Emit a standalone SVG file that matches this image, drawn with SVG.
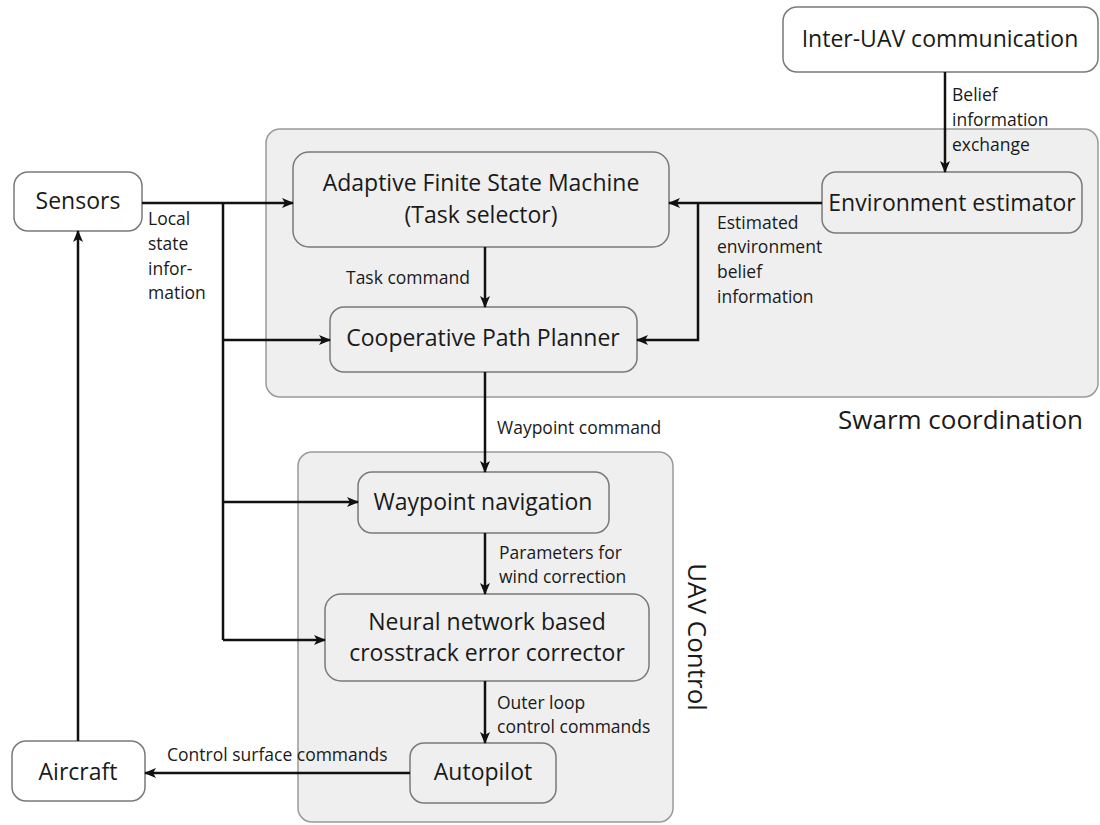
<svg xmlns="http://www.w3.org/2000/svg" width="1100" height="825" viewBox="0 0 1100 825">
  <defs>
    <marker id="arrow" markerUnits="userSpaceOnUse" markerWidth="12" markerHeight="12" viewBox="0 0 12 12" refX="11" refY="6" orient="auto">
      <path d="M0,1 L12,6 L0,11 L3,6 Z" fill="#111"/>
    </marker>
    <style>
      .group { fill: #efefef; stroke: #9a9a9a; stroke-width: 1.5; }
      .box { fill: #efefef; stroke: #7a7a7a; stroke-width: 1.5; }
      .outer { fill: #ffffff; stroke: #7a7a7a; stroke-width: 1.5; }
      .main { font-family: "Open Sans", "Liberation Sans", sans-serif; font-size: 23px; fill: #1a1a1a; text-anchor: middle; }
      .lbl { font-family: "Open Sans", "Liberation Sans", sans-serif; font-size: 17.5px; fill: #1a1a1a; }
      .title { font-family: "Open Sans", "Liberation Sans", sans-serif; font-size: 26px; fill: #1a1a1a; }
      .conn { fill: none; stroke: #111; stroke-width: 2.5; }
    </style>
  </defs>

  <!-- container groups -->
  <g id="swarm-coordination">
    <rect class="group" x="266" y="129" width="832" height="268" rx="14"/>
    <text class="title" x="1083" y="429" text-anchor="end">Swarm coordination</text>
  </g>
  <g id="uav-control">
    <rect class="group" x="298" y="452" width="375" height="370" rx="14"/>
    <text class="title" transform="translate(688,637) rotate(90)" text-anchor="middle">UAV Control</text>
  </g>

  <!-- nodes -->
  <g id="inter-uav">
    <rect class="outer" x="783" y="7" width="315" height="65" rx="14"/>
    <text class="main" x="940" y="47">Inter-UAV communication</text>
  </g>
  <g id="sensors">
    <rect class="outer" x="14" y="172" width="128" height="59" rx="14"/>
    <text class="main" x="78" y="209">Sensors</text>
  </g>
  <g id="afsm">
    <rect class="box" x="293" y="152" width="376" height="95" rx="16"/>
    <text class="main" x="481" y="191">Adaptive Finite State Machine</text>
    <text class="main" x="481" y="223">(Task selector)</text>
  </g>
  <g id="env-estimator">
    <rect class="box" x="822" y="172" width="260" height="61" rx="14"/>
    <text class="main" x="952" y="211">Environment estimator</text>
  </g>
  <g id="path-planner">
    <rect class="box" x="330" y="307" width="307" height="65" rx="14"/>
    <text class="main" x="483" y="346">Cooperative Path Planner</text>
  </g>
  <g id="waypoint-nav">
    <rect class="box" x="358" y="472" width="251" height="61" rx="14"/>
    <text class="main" x="483" y="510">Waypoint navigation</text>
  </g>
  <g id="nn-corrector">
    <rect class="box" x="325" y="594" width="324" height="87" rx="16"/>
    <text class="main" x="487" y="630">Neural network based</text>
    <text class="main" x="487" y="661">crosstrack error corrector</text>
  </g>
  <g id="autopilot">
    <rect class="box" x="410" y="743" width="146" height="60" rx="14"/>
    <text class="main" x="483" y="780">Autopilot</text>
  </g>
  <g id="aircraft">
    <rect class="outer" x="12" y="741" width="133" height="60" rx="14"/>
    <text class="main" x="78" y="780">Aircraft</text>
  </g>

  <!-- connectors -->
  <g id="connectors">
    <path class="conn" d="M142,203 H293" marker-end="url(#arrow)"/>
    <path class="conn" d="M223,203 V640"/>
    <path class="conn" d="M223,340 H330" marker-end="url(#arrow)"/>
    <path class="conn" d="M223,502 H358" marker-end="url(#arrow)"/>
    <path class="conn" d="M223,640 H325" marker-end="url(#arrow)"/>
    <path class="conn" d="M485,247 V307" marker-end="url(#arrow)"/>
    <path class="conn" d="M822,203 H669" marker-end="url(#arrow)"/>
    <path class="conn" d="M698,203 V340 H637" marker-end="url(#arrow)"/>
    <path class="conn" d="M945,72 V172" marker-end="url(#arrow)"/>
    <path class="conn" d="M485,372 V472" marker-end="url(#arrow)"/>
    <path class="conn" d="M485,533 V594" marker-end="url(#arrow)"/>
    <path class="conn" d="M485,681 V743" marker-end="url(#arrow)"/>
    <path class="conn" d="M410,773 H145" marker-end="url(#arrow)"/>
    <path class="conn" d="M78,741 V231" marker-end="url(#arrow)"/>
  </g>

  <!-- connector labels -->
  <g id="labels">
    <text class="lbl" x="148" y="225">Local</text>
    <text class="lbl" x="148" y="250">state</text>
    <text class="lbl" x="148" y="275">infor-</text>
    <text class="lbl" x="148" y="299">mation</text>
    <text class="lbl" x="346" y="284">Task command</text>
    <text class="lbl" x="952" y="101">Belief</text>
    <text class="lbl" x="952" y="126">information</text>
    <text class="lbl" x="952" y="151">exchange</text>
    <text class="lbl" x="717" y="229">Estimated</text>
    <text class="lbl" x="717" y="253">environment</text>
    <text class="lbl" x="717" y="278">belief</text>
    <text class="lbl" x="717" y="303">information</text>
    <text class="lbl" x="497" y="434">Waypoint command</text>
    <text class="lbl" x="499" y="559">Parameters for</text>
    <text class="lbl" x="499" y="583">wind correction</text>
    <text class="lbl" x="497" y="709">Outer loop</text>
    <text class="lbl" x="497" y="733">control commands</text>
    <text class="lbl" x="167" y="761">Control surface commands</text>
  </g>
</svg>
